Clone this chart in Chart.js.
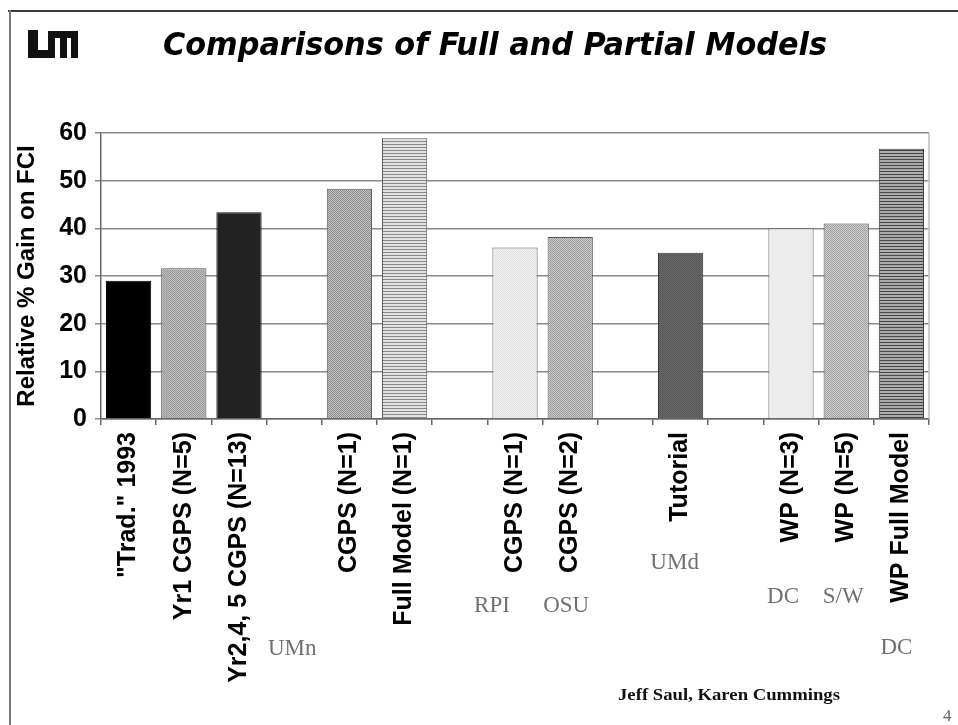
<!DOCTYPE html>
<html>
<head>
<meta charset="utf-8">
<script src="https://cdn.jsdelivr.net/npm/chart.js@4.4.1/dist/chart.umd.min.js"></script>
<style>
  html, body { margin: 0; padding: 0; background: #fff; }
  body { width: 958px; height: 725px; position: relative; overflow: hidden; }
  #chart { position: absolute; left: 0; top: 0; }
  .line-top { position: absolute; left: 8px; top: 10px; width: 950px; height: 2px; background: #3c3c3c; }
  .line-left { position: absolute; left: 9px; top: 10px; width: 2px; height: 715px; background: #7a7a7a; }
  .logo div { position: absolute; background: #111; }
  #title { position: absolute; left: 163px; top: 28px; font: italic bold 32px/32px "DejaVu Sans Condensed", "DejaVu Sans", sans-serif; color: #000; white-space: nowrap; transform-origin: 0 0; }
  #credit { position: absolute; left: 618px; top: 686px; font: bold 17px/17px "Liberation Serif", serif; color: #111; white-space: nowrap; transform-origin: 0 0; }
  #page { position: absolute; left: 943px; top: 707px; font: 17px/17px "Liberation Serif", serif; color: #666; }
</style>
</head>
<body>
<canvas id="chart" width="958" height="725"></canvas>
<div class="line-top"></div>
<div class="line-left"></div>
<div class="logo">
  <div style="left:28px;top:30px;width:10px;height:28px"></div>
  <div style="left:28px;top:50px;width:22px;height:8px"></div>
  <div style="left:48px;top:31px;width:30px;height:7px"></div>
  <div style="left:48px;top:31px;width:7px;height:27px"></div>
  <div style="left:60px;top:31px;width:7px;height:27px"></div>
  <div style="left:71px;top:31px;width:7px;height:27px"></div>
</div>
<div id="title">Comparisons of Full and Partial Models</div>
<div id="credit">Jeff Saul, Karen Cummings</div>
<div id="page">4</div>

<script>
// ===== data =====
const categories = [
  '"Trad." 1993', 'Yr1 CGPS (N=5)', 'Yr2,4, 5 CGPS (N=13)', '',
  'CGPS (N=1)', 'Full Model (N=1)', '',
  'CGPS (N=1)', 'CGPS (N=2)', '',
  'Tutorial', '',
  'WP (N=3)', 'WP (N=5)', 'WP Full Model'
];
const gains = [29, 31.6, 43.4, null, 48.3, 58.9, null, 36, 38.2, null, 34.9, null, 40, 41, 56.7];
const yTicks = [0, 10, 20, 30, 40, 50, 60];

// institution names and the category each one sits under
const groupNames = ['UMn', 'RPI', 'OSU', 'UMd', 'DC', 'S/W', 'DC'];
const groupAt = [3, 7, 8, 10, 12, 13, 14];

// ===== styles / layout =====
// [dx from category centre, baseline y]
const groupPos = [[-2, 655], [-23, 612], [-4, 612], [-6, 569], [-8, 603], [-3, 603], [-5, 654]];

function makePattern(kind, a, b, period){
  const t = document.createElement('canvas');
  const g = t.getContext('2d');
  if (kind === 'dots') {
    t.width = 2; t.height = 2;
    g.fillStyle = b; g.fillRect(0,0,2,2);
    g.fillStyle = a; g.fillRect(0,0,1,1); g.fillRect(1,1,1,1);
  } else {
    t.width = 1; t.height = period;
    g.fillStyle = b; g.fillRect(0,0,1,period);
    g.fillStyle = a; g.fillRect(0,0,1,1);
  }
  return document.getElementById('chart').getContext('2d').createPattern(t, 'repeat');
}

const barFills = [
  '#000000',
  makePattern('dots', '#9a9a9a', '#bdbdbd'),
  '#222222',
  null,
  makePattern('dots', '#8e8e8e', '#c2c2c2'),
  makePattern('lines', '#8a8a8a', '#e2e2e2', 3),
  null,
  makePattern('dots', '#e0e0e0', '#f3f3f3'),
  makePattern('dots', '#a0a0a0', '#c6c6c6'),
  null,
  makePattern('dots', '#565656', '#6a6a6a'),
  null,
  '#ececec',
  makePattern('dots', '#a4a4a4', '#cacaca'),
  makePattern('lines', '#474747', '#ababab', 3)
];
const barBorders = ['#000', '#555', '#111', '#000', '#555', '#555', '#000', '#666', '#555', '#000', '#333', '#000', '#666', '#555', '#333'];

const font = 'Liberation Sans, Arial, sans-serif';

// 右側の枠線とグループ名
const extras = {
  id: 'extras',
  afterDraw(chart){
    const {ctx, chartArea: a, scales: {x}} = chart;
    ctx.save();
    ctx.strokeStyle = '#bcbcbc';
    ctx.lineWidth = 1.5;
    ctx.beginPath();
    ctx.moveTo(a.right, a.top); ctx.lineTo(a.right, a.bottom);
    ctx.stroke();
    ctx.fillStyle = '#707070';
    ctx.font = '23px "Liberation Serif", serif';
    ctx.textAlign = 'center';
    ctx.textBaseline = 'alphabetic';
    groupNames.forEach((name, i) => {
      const [dx, y] = groupPos[i];
      ctx.fillText(name, x.getPixelForValue(groupAt[i]) + dx, y);
    });
    ctx.restore();
  }
};

new Chart(document.getElementById('chart'), {
  type: 'bar',
  data: {
    labels: categories,
    datasets: [{
      data: gains,
      backgroundColor: barFills,
      borderColor: barBorders,
      borderWidth: 1,
      barPercentage: 0.82,
      categoryPercentage: 1
    }]
  },
  options: {
    responsive: false,
    animation: false,
    layout: { padding: { left: 0, top: 133, right: 29, bottom: 0 } },
    plugins: { legend: { display: false }, tooltip: { enabled: false } },
    scales: {
      x: {
        afterFit: s => { s.height = 306; },
        grid: { drawOnChartArea: false, drawTicks: true, tickLength: 6, color: '#666', lineWidth: 1.5 },
        border: { color: '#666', width: 1.5 },
        ticks: { autoSkip: false, minRotation: 90, maxRotation: 90, padding: 7, color: '#000', font: { family: font, size: 25, weight: 'bold' } }
      },
      y: {
        min: 0, max: 60,
        afterFit: s => { s.width = 101; },
        afterBuildTicks: s => { s.ticks = yTicks.map(v => ({ value: v })); },
        grid: { color: '#8a8a8a', lineWidth: 1.5, tickLength: 6 },
        border: { color: '#666', width: 1.5 },
        ticks: { padding: 8, color: '#000', font: { family: font, size: 25, weight: 'bold' } },
        title: { display: true, text: 'Relative % Gain on FCI', color: '#000', padding: { top: 13, bottom: 0 }, font: { family: font, size: 24, weight: 'bold' } }
      }
    }
  },
  plugins: [extras]
});

// 文字幅を元の図に合わせる
function fitWidth(id, w){
  const el = document.getElementById(id);
  el.style.transform = 'scaleX(' + (w / el.getBoundingClientRect().width) + ')';
}
fitWidth('title', 664);
fitWidth('credit', 222);
</script>
</body>
</html>
